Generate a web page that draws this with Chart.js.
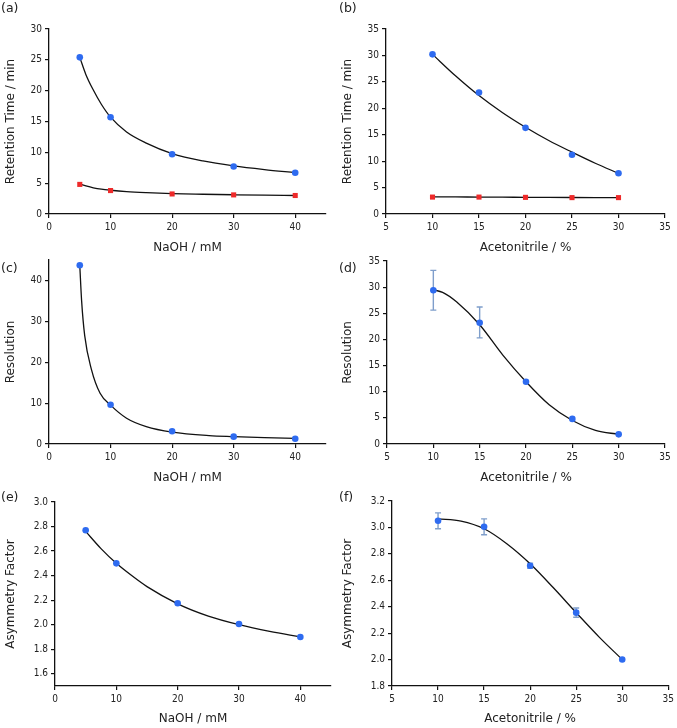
<!DOCTYPE html>
<html>
<head>
<meta charset="utf-8">
<script src="https://cdn.jsdelivr.net/npm/chart.js@4/dist/chart.umd.min.js"></script>
<style>
  body { margin: 0; background: #fff; }
  #wrap { position: relative; width: 677px; height: 728px; overflow: hidden; }
  canvas { position: absolute; }
  .lbl { position: absolute; font: 12.5px 'DejaVu Sans', sans-serif; color: #222; }
</style>
</head>
<body>
<div id="wrap">
  <canvas id="pa"></canvas><canvas id="pb"></canvas>
  <canvas id="pc"></canvas><canvas id="pd"></canvas>
  <canvas id="pe"></canvas><canvas id="pf"></canvas>
  <div class="lbl" style="left:1px;top:0px">(a)</div>
  <div class="lbl" style="left:339px;top:0px">(b)</div>
  <div class="lbl" style="left:1px;top:260px">(c)</div>
  <div class="lbl" style="left:339px;top:260px">(d)</div>
  <div class="lbl" style="left:1px;top:489px">(e)</div>
  <div class="lbl" style="left:339px;top:489px">(f)</div>
</div>
<script>
// measured points
const naoh = [5, 10, 20, 30, 40];
const acn = [10, 15, 20, 25, 30];

const rtNaohBlue = [25.4, 15.7, 9.7, 7.7, 6.7];
const rtNaohRed = [4.8, 3.8, 3.25, 3.1, 3.0];
const rtAcnBlue = [30.2, 23.0, 16.3, 11.2, 7.7];
const rtAcnRed = [3.2, 3.2, 3.15, 3.1, 3.1];
const resNaoh = [43.7, 9.6, 3.1, 1.8, 1.3];
const resAcn = [29.4, 23.2, 11.9, 4.8, 1.85];
const resAcnLow = [25.6, 20.3, null, null, null];
const resAcnHigh = [33.2, 26.2, null, null, null];
const asymNaoh = [2.77, 2.50, 2.175, 2.005, 1.90];
const asymAcn = [3.05, 3.005, 2.71, 2.355, 2.0];
const asymAcnLow = [2.99, 2.945, 2.69, 2.32, null];
const asymAcnHigh = [3.11, 3.065, 2.73, 2.39, null];

// fitted curves
const fitRtNaohX = [5, 6, 7.2, 8.5, 10, 12.6, 15.8, 20, 25, 30, 35, 40];
const fitRtNaohBlue = [25.4, 22.6, 20.1, 17.8, 15.7, 13.3, 11.5, 9.8, 8.6, 7.8, 7.2, 6.7];
const fitRtNaohRed = [4.85, 4.55, 4.25, 4.02, 3.85, 3.63, 3.46, 3.3, 3.2, 3.12, 3.05, 3.0];
const fitAcnX = [10, 12.5, 15, 17.5, 20, 22.5, 25, 27.5, 30];
const fitRtAcnBlue = [30.2, 26.1, 22.4, 19.2, 16.4, 13.9, 11.7, 9.6, 7.7];
const fitRtAcnRed = [3.25, 3.23, 3.2, 3.18, 3.16, 3.14, 3.12, 3.1, 3.08];
const fitResNaohX = [5, 5.3, 5.8, 6.9, 8.3, 10, 12.6, 15.8, 20, 26, 30, 35, 40];
const fitResNaoh = [43.7, 35, 26.5, 18.2, 12.4, 9.5, 6.3, 4.25, 2.9, 2.05, 1.8, 1.55, 1.4];
const fitResAcnX = [10, 11, 12.5, 15, 17.5, 20, 22.5, 25, 27.5, 30];
const fitResAcn = [29.5, 29.0, 27.2, 22.8, 17.0, 11.9, 7.5, 4.5, 2.6, 1.85];
const fitAsymNaohX = [5, 7.5, 10, 12.5, 15, 20, 25, 30, 35, 40];
const fitAsymNaoh = [2.76, 2.62, 2.50, 2.40, 2.31, 2.17, 2.07, 2.00, 1.945, 1.90];
const fitAsymAcn = [3.065, 3.048, 2.99, 2.875, 2.725, 2.545, 2.355, 2.17, 2.0];

// tick labels
const ticksNaohX = [0, 10, 20, 30, 40];
const ticksAcnX = [5, 10, 15, 20, 25, 30, 35];
const ticksRtA = [0, 5, 10, 15, 20, 25, 30];
const ticksRtB = [0, 5, 10, 15, 20, 25, 30, 35];
const ticksResC = [0, 10, 20, 30, 40];
const ticksResD = [0, 5, 10, 15, 20, 25, 30, 35];
const ticksAsymE = [1.6, 1.8, 2.0, 2.2, 2.4, 2.6, 2.8, 3.0];
const ticksAsymF = [1.8, 2.0, 2.2, 2.4, 2.6, 2.8, 3.0, 3.2];

const BLUE = '#2e6bf0';
const RED = '#ee2a2a';
const ERR = '#7f9ecb';

Chart.defaults.color = '#222';
Chart.defaults.font.family = "'DejaVu Sans', sans-serif";

const zip = (xs, ys) => xs.map((x, i) => ({ x: x, y: ys[i] }));

function pointSet(xs, ys, color, style) {
    return {
        data: zip(xs, ys), showLine: false,
        pointStyle: style || 'circle',
        pointRadius: style === 'rect' ? 3.6 : 3.3,
        backgroundColor: color, borderColor: color, borderWidth: 0
    };
}

function fitSet(xs, ys) {
    return {
        data: zip(xs, ys), showLine: true, pointRadius: 0,
        borderColor: '#111', borderWidth: 1.3,
        cubicInterpolationMode: 'monotone', fill: false
    };
}

function errorBars(xs, low, high) {
    return {
        id: 'errorBars',
        beforeDatasetsDraw(chart) {
            const { ctx, scales: { x, y } } = chart;
            ctx.save();
            ctx.strokeStyle = ERR;
            ctx.lineWidth = 1.4;
            xs.forEach((xv, i) => {
                if (low[i] == null) return;
                const px = x.getPixelForValue(xv);
                const y1 = y.getPixelForValue(low[i]);
                const y2 = y.getPixelForValue(high[i]);
                ctx.beginPath();
                ctx.moveTo(px, y1); ctx.lineTo(px, y2);
                ctx.moveTo(px - 3, y1); ctx.lineTo(px + 3, y1);
                ctx.moveTo(px - 3, y2); ctx.lineTo(px + 3, y2);
                ctx.stroke();
            });
            ctx.restore();
        }
    };
}

function axis(min, max, ticks, title, digits, fitSize) {
    return {
        type: 'linear', min: min, max: max,
        afterBuildTicks: s => { s.ticks = ticks.map(v => ({ value: v })); },
        afterFit: fitSize,
        ticks: {
            padding: 3, color: '#222',
            font: { family: "'DejaVu Sans Condensed', 'DejaVu Sans', sans-serif", size: 10 },
            callback: v => v.toFixed(digits)
        },
        grid: { drawOnChartArea: false, drawTicks: true, tickLength: 4, color: '#111', lineWidth: 1.2 },
        border: { display: true, color: '#111', width: 1.3 },
        title: { display: true, text: title, color: '#222', font: { size: 12, lineHeight: 1.2 }, padding: { top: 4, bottom: 0 } }
    };
}

function panel(id, p) {
    const cv = document.getElementById(id);
    cv.width = p.w; cv.height = p.h;
    cv.style.left = p.left + 'px'; cv.style.top = p.top + 'px';
    return new Chart(cv, {
        type: 'scatter',
        data: { datasets: p.datasets },
        options: {
            responsive: false, animation: false, devicePixelRatio: 1,
            layout: { padding: { top: p.padTop, right: p.padRight, left: 0, bottom: 0 } },
            plugins: { legend: { display: false }, tooltip: { enabled: false } },
            scales: {
                x: axis(p.xMin, p.xMax, p.xTicks, p.xTitle, 0, s => { s.height = p.xH; }),
                y: axis(p.yMin, p.yMax, p.yTicks, p.yTitle, p.digits || 0, s => { s.width = p.yW; })
            }
        },
        plugins: p.plugins || []
    });
}

// (a) retention time vs NaOH
panel('pa', {
    left: 0, top: 0, w: 337, h: 255, yW: 49, padTop: 29, padRight: 11, xH: 41,
    xMin: 0, xMax: 45, xTicks: ticksNaohX, xTitle: 'NaOH / mM',
    yMin: 0, yMax: 30, yTicks: ticksRtA, yTitle: 'Retention Time / min',
    datasets: [
        pointSet(naoh, rtNaohBlue, BLUE),
        pointSet(naoh, rtNaohRed, RED, 'rect'),
        fitSet(fitRtNaohX, fitRtNaohBlue),
        fitSet(fitRtNaohX, fitRtNaohRed)
    ]
});

// (b) retention time vs acetonitrile
panel('pb', {
    left: 337, top: 0, w: 340, h: 255, yW: 49, padTop: 29, padRight: 12, xH: 41,
    xMin: 5, xMax: 35, xTicks: ticksAcnX, xTitle: 'Acetonitrile / %',
    yMin: 0, yMax: 35, yTicks: ticksRtB, yTitle: 'Retention Time / min',
    datasets: [
        pointSet(acn, rtAcnBlue, BLUE),
        pointSet(acn, rtAcnRed, RED, 'rect'),
        fitSet(fitAcnX, fitRtAcnBlue),
        fitSet(fitAcnX, fitRtAcnRed)
    ]
});

// (c) resolution vs NaOH
panel('pc', {
    left: 0, top: 240, w: 337, h: 245, yW: 49, padTop: 20, padRight: 11, xH: 41,
    xMin: 0, xMax: 45, xTicks: ticksNaohX, xTitle: 'NaOH / mM',
    yMin: 0, yMax: 45, yTicks: ticksResC, yTitle: 'Resolution',
    datasets: [
        pointSet(naoh, resNaoh, BLUE),
        fitSet(fitResNaohX, fitResNaoh)
    ]
});

// (d) resolution vs acetonitrile
panel('pd', {
    left: 337, top: 240, w: 340, h: 245, yW: 50, padTop: 21, padRight: 12, xH: 41,
    xMin: 5, xMax: 35, xTicks: ticksAcnX, xTitle: 'Acetonitrile / %',
    yMin: 0, yMax: 35, yTicks: ticksResD, yTitle: 'Resolution',
    datasets: [
        pointSet(acn, resAcn, BLUE),
        fitSet(fitResAcnX, fitResAcn)
    ],
    plugins: [errorBars(acn, resAcnLow, resAcnHigh)]
});

// (e) asymmetry vs NaOH
panel('pe', {
    left: 0, top: 480, w: 337, h: 246, yW: 55, padTop: 22, padRight: 6, xH: 40,
    xMin: 0, xMax: 45, xTicks: ticksNaohX, xTitle: 'NaOH / mM',
    yMin: 1.5, yMax: 3.0, yTicks: ticksAsymE, yTitle: 'Asymmetry Factor', digits: 1,
    datasets: [
        pointSet(naoh, asymNaoh, BLUE),
        fitSet(fitAsymNaohX, fitAsymNaoh)
    ]
});

// (f) asymmetry vs acetonitrile
panel('pf', {
    left: 337, top: 480, w: 340, h: 246, yW: 55, padTop: 21, padRight: 8, xH: 40,
    xMin: 5, xMax: 35, xTicks: ticksAcnX, xTitle: 'Acetonitrile / %',
    yMin: 1.8, yMax: 3.2, yTicks: ticksAsymF, yTitle: 'Asymmetry Factor', digits: 1,
    datasets: [
        pointSet(acn, asymAcn, BLUE),
        fitSet(fitAcnX, fitAsymAcn)
    ],
    plugins: [errorBars(acn, asymAcnLow, asymAcnHigh)]
});
</script>
</body>
</html>
